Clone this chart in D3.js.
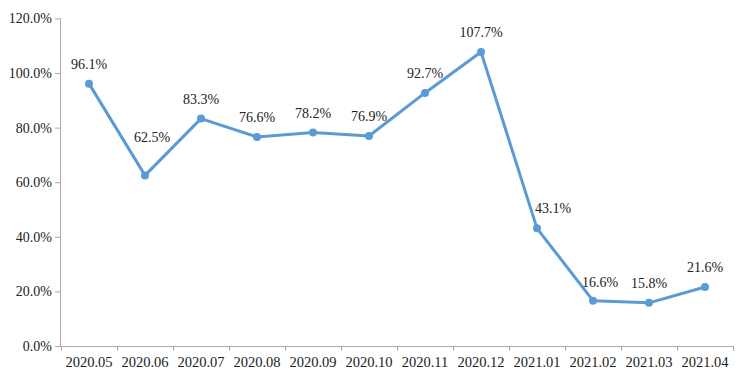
<!DOCTYPE html>
<html><head><meta charset="utf-8">
<script src="https://cdn.jsdelivr.net/npm/d3@7"></script>
<style>body{margin:0;background:#fff}svg{display:block}</style>
</head><body><svg id="c" width="750" height="380"></svg>
<script>
const categories = ["2020.05","2020.06","2020.07","2020.08","2020.09","2020.10","2020.11","2020.12","2021.01","2021.02","2021.03","2021.04"];
const values = [96.1,62.5,83.3,76.6,78.2,76.9,92.7,107.7,43.1,16.6,15.8,21.6];
const yTicks = [0,20,40,60,80,100,120];

const FONT = "'Liberation Serif', 'DejaVu Serif', serif";
// label placement nudges (layout only)
const nudge = {"2020.06":[7,-33],"2021.01":[16,-15],"2021.02":[7,-14]};

const svg = d3.select("#c");
const x = d3.scaleBand().domain(categories).range([61,733]);
const y = d3.scaleLinear().domain([0,120]).range([346,18.4]);

const gx = svg.append("g").attr("transform","translate(0,346)")
  .call(d3.axisBottom(x).tickSize(0).tickPadding(0).tickFormat(d=>d));
gx.attr("font-family",FONT);
gx.select(".domain").attr("stroke","#aaa");
gx.selectAll("text").attr("font-family",FONT).attr("font-size","14.5px").attr("fill","#222").attr("dy",0).attr("y",21);
const bounds = categories.map(c=>x(c)).concat([x.range()[1]]);
svg.append("g").selectAll("line").data(bounds).join("line")
  .attr("x1",d=>d+0.5).attr("x2",d=>d+0.5).attr("y1",346).attr("y2",351).attr("stroke","#aaa");

const gy = svg.append("g").attr("transform","translate(61,0)")
  .call(d3.axisLeft(y).tickValues(yTicks).tickSize(6).tickPadding(3).tickFormat(d=>d.toFixed(1)+"%"));
gy.attr("font-family",FONT);
gy.select(".domain").attr("stroke","#aaa").attr("d","M-0.5,18.4V346");
gy.selectAll(".tick line").attr("stroke","#aaa");
gy.selectAll("text").attr("font-family",FONT).attr("font-size","14px").attr("fill","#222");

const cx = d=>x(d)+x.bandwidth()/2;
const line = d3.line().x((d,i)=>cx(categories[i])).y(d=>y(d));
svg.append("path").datum(values).attr("d",line).attr("fill","none")
  .attr("stroke","#5b9bd5").attr("stroke-width",3).attr("stroke-linejoin","round");
svg.append("g").selectAll("circle").data(values).join("circle")
  .attr("cx",(d,i)=>cx(categories[i])).attr("cy",d=>y(d)).attr("r",4).attr("fill","#5b9bd5");
svg.append("g").selectAll("text").data(values).join("text")
  .attr("x",(d,i)=>cx(categories[i]) + (nudge[categories[i]]||[0,-15])[0])
  .attr("y",(d,i)=>y(d) + (nudge[categories[i]]||[0,-15])[1])
  .attr("text-anchor","middle").attr("font-family",FONT).attr("font-size","14px").attr("fill","#222")
  .text(d=>d.toFixed(1)+"%");
</script></body></html>
